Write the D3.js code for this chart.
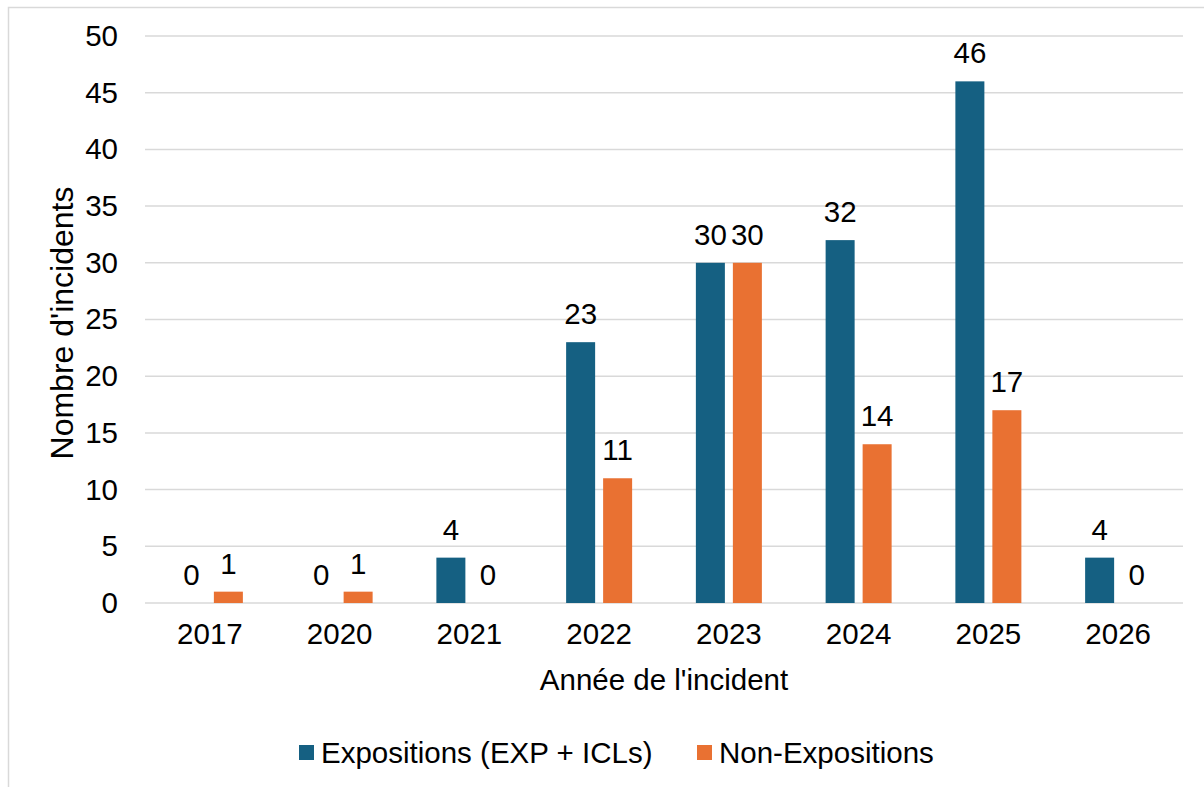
<!DOCTYPE html>
<meta charset="utf-8">
<style>
  body { margin: 0; background: #fff; }
  text { font-family: "Liberation Sans", Arial, sans-serif; fill: #000; }
</style>
<body>
<div id="vis"></div>
<script src="https://cdn.jsdelivr.net/npm/d3@7"></script>
<script>

const width = 1204,
    height = 787;

const years = ['2017', '2020', '2021', '2022', '2023', '2024', '2025', '2026'];
const series = ['Expositions (EXP + ICLs)', 'Non-Expositions'];
const expositions = [0, 0, 4, 23, 30, 32, 46, 4];
const nonExpositions = [1, 1, 0, 11, 30, 14, 17, 0];
const yTicks = [0, 5, 10, 15, 20, 25, 30, 35, 40, 45, 50];

const colors = ['#156082', '#e97132'];
const fontSize = 29.5;

const margin = {left: 145, right: 21, top: 36, bottom: 184};

const svg = d3.select('#vis')
    .append('svg')
    .attr('width', width)
    .attr('height', height);

// outer frame (runs off the right and bottom edge like in the source)
svg.append('rect')
    .attr('x', 8.5)
    .attr('y', 7.5)
    .attr('width', 1210)
    .attr('height', 800)
    .style('fill', 'none')
    .style('stroke', '#d9d9d9')
    .style('stroke-width', 1.5);

const x0 = d3.scaleBand()
    .domain(years)
    .range([margin.left, width - margin.right]);

const x1 = d3.scaleBand()
    .domain(series)
    .range([-33, 33])
    .paddingInner(0.216);

const y = d3.scaleLinear()
    .domain([0, 50])
    .range([height - margin.bottom, margin.top]);

// gridlines
svg.append('g')
    .selectAll('line')
    .data(yTicks)
    .enter().append('line')
    .attr('x1', margin.left)
    .attr('x2', width - margin.right)
    .attr('y1', d => y(d))
    .attr('y2', d => y(d))
    .style('stroke', '#d9d9d9')
    .style('stroke-width', 1.5);

// y axis labels
const yAxis = svg.append('g')
    .attr('transform', 'translate(' + margin.left + ',0)')
    .call(d3.axisLeft(y).tickValues(yTicks).tickSize(0).tickPadding(27));
yAxis.select('.domain').remove();
yAxis.selectAll('text')
    .style('font-size', fontSize + 'px')
    .style('font-family', '"Liberation Sans", Arial, sans-serif');

// x axis labels
const xAxis = svg.append('g')
    .attr('transform', 'translate(0,' + y(0) + ')')
    .call(d3.axisBottom(x0).tickSize(0).tickPadding(20));
xAxis.select('.domain').remove();
xAxis.selectAll('text')
    .style('font-size', fontSize + 'px')
    .style('font-family', '"Liberation Sans", Arial, sans-serif');

// bars
const rows = years.map((yr, i) => ({
  year: yr,
  values: [
    {key: series[0], value: expositions[i], color: colors[0]},
    {key: series[1], value: nonExpositions[i], color: colors[1]}
  ]
}));

const groups = svg.append('g')
    .selectAll('.year-group')
    .data(rows)
    .enter().append('g')
    .attr('class', 'year-group')
    .attr('transform', d => 'translate(' + (x0(d.year) + x0.bandwidth() / 2) + ',0)');

groups.selectAll('rect')
    .data(d => d.values)
    .enter().append('rect')
    .attr('x', d => x1(d.key))
    .attr('width', x1.bandwidth())
    .attr('y', d => y(d.value))
    .attr('height', d => y(0) - y(d.value))
    .style('fill', d => d.color);

groups.selectAll('.value-label')
    .data(d => d.values)
    .enter().append('text')
    .attr('class', 'value-label')
    .attr('x', d => x1(d.key) + x1.bandwidth() / 2)
    .attr('y', d => y(d.value) - 18)
    .style('font-size', fontSize + 'px')
    .style('text-anchor', 'middle')
    .text(d => d.value);

// axis titles
svg.append('text')
    .attr('x', (margin.left + width - margin.right) / 2)
    .attr('y', 690)
    .style('font-size', fontSize + 'px')
    .style('text-anchor', 'middle')
    .text("Année de l'incident");

svg.append('text')
    .attr('transform', 'translate(73,323) rotate(-90)')
    .style('font-size', '32px')
    .style('text-anchor', 'middle')
    .text("Nombre d'incidents");

// legend
const legendX = [299, 697];
const legend = svg.append('g')
    .selectAll('.legend-item')
    .data(series)
    .enter().append('g')
    .attr('class', 'legend-item')
    .attr('transform', (d, i) => 'translate(' + legendX[i] + ',745)');
legend.append('rect')
    .attr('width', 15)
    .attr('height', 15)
    .style('fill', (d, i) => colors[i]);
legend.append('text')
    .attr('x', 22)
    .attr('y', 18)
    .style('font-size', fontSize + 'px')
    .text(d => d);

</script>
</body>
